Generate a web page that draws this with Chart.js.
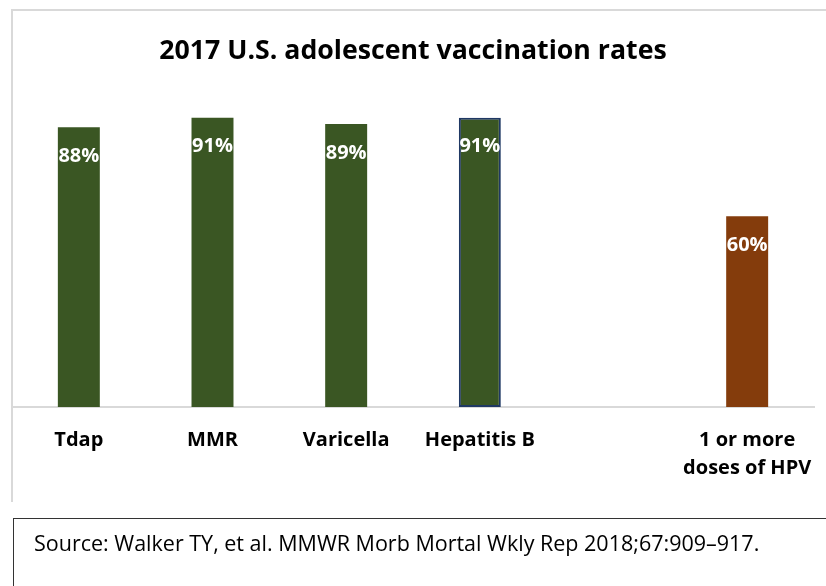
<!DOCTYPE html>
<html>
<head>
<meta charset="utf-8">
<script src="https://cdn.jsdelivr.net/npm/chart.js@4"></script>
<style>
html,body{margin:0;padding:0;background:#fff;width:826px;height:586px;overflow:hidden;font-family:'Open Sans',sans-serif}
#frame{position:absolute;left:11px;top:9px;width:830px;height:493px;border-left:2px solid #d9d9d9;border-top:2px solid #d9d9d9;box-sizing:border-box}
#wrap{position:absolute;left:0;top:0;width:826px;height:586px}
#src{position:absolute;left:13px;top:518px;width:830px;height:80px;border-left:1px solid #333;border-top:1px solid #333;box-sizing:border-box;padding:9px 0 0 20px;font-size:21.5px;color:#000}
</style>
</head>
<body>
<div id="frame"></div>
<div id="wrap"><canvas id="c" width="826" height="586"></canvas></div>
<div id="src">Source: Walker TY, et al. MMWR Morb Mortal Wkly Rep 2018;67:909–917.</div>
<script>
const categorias=['Tdap','MMR','Varicella','Hepatitis B','',['1 or more','doses of HPV']];
const taxas=[88,91,89,91,null,60];
const cores=['#3a5623','#3a5623','#3a5623','#3a5623','#3a5623','#843c0c'];
const bordas=['#3a5623','#3a5623','#3a5623','#1f3864','#3a5623','#843c0c'];
const larguraBorda=[0,0,0,2,0,0];

const rotulos={id:'rotulos',afterDatasetsDraw(chart){
  const ctx=chart.ctx,meta=chart.getDatasetMeta(0);
  ctx.save();ctx.fillStyle='#fff';ctx.font='bold 20px "Open Sans"';ctx.textAlign='center';ctx.textBaseline='middle';
  meta.data.forEach((b,i)=>{if(taxas[i]==null)return;ctx.fillText(taxas[i]+'%',b.x,b.y+29)});
  ctx.restore();
}};

new Chart(document.getElementById('c'),{
  type:'bar',
  data:{labels:categorias,datasets:[{data:taxas,backgroundColor:cores,borderColor:bordas,borderWidth:larguraBorda,borderSkipped:false,barPercentage:0.314,categoryPercentage:1}]},
  options:{
    responsive:false,animation:false,
    layout:{padding:{left:12,right:12,top:0,bottom:0}},
    plugins:{legend:{display:false},tooltip:{enabled:false},
      title:{display:true,text:'2017 U.S. adolescent vaccination rates',color:'#000',font:{family:'Open Sans',size:26.7,weight:'bold',lineHeight:1.2},padding:{top:35,bottom:22}}},
    scales:{
      y:{display:false,min:0,max:100},
      x:{grid:{display:false,drawTicks:false},border:{display:true,color:'#d9d9d9',width:2},
        ticks:{color:'#000',font:{family:'Open Sans',size:20,weight:'bold',lineHeight:1.4},padding:19,maxRotation:0,autoSkip:false},
        afterFit(s){s.height=179;s.paddingLeft=0;s.paddingRight=0}}
    }
  },
  plugins:[rotulos]
});
</script>
</body>
</html>
